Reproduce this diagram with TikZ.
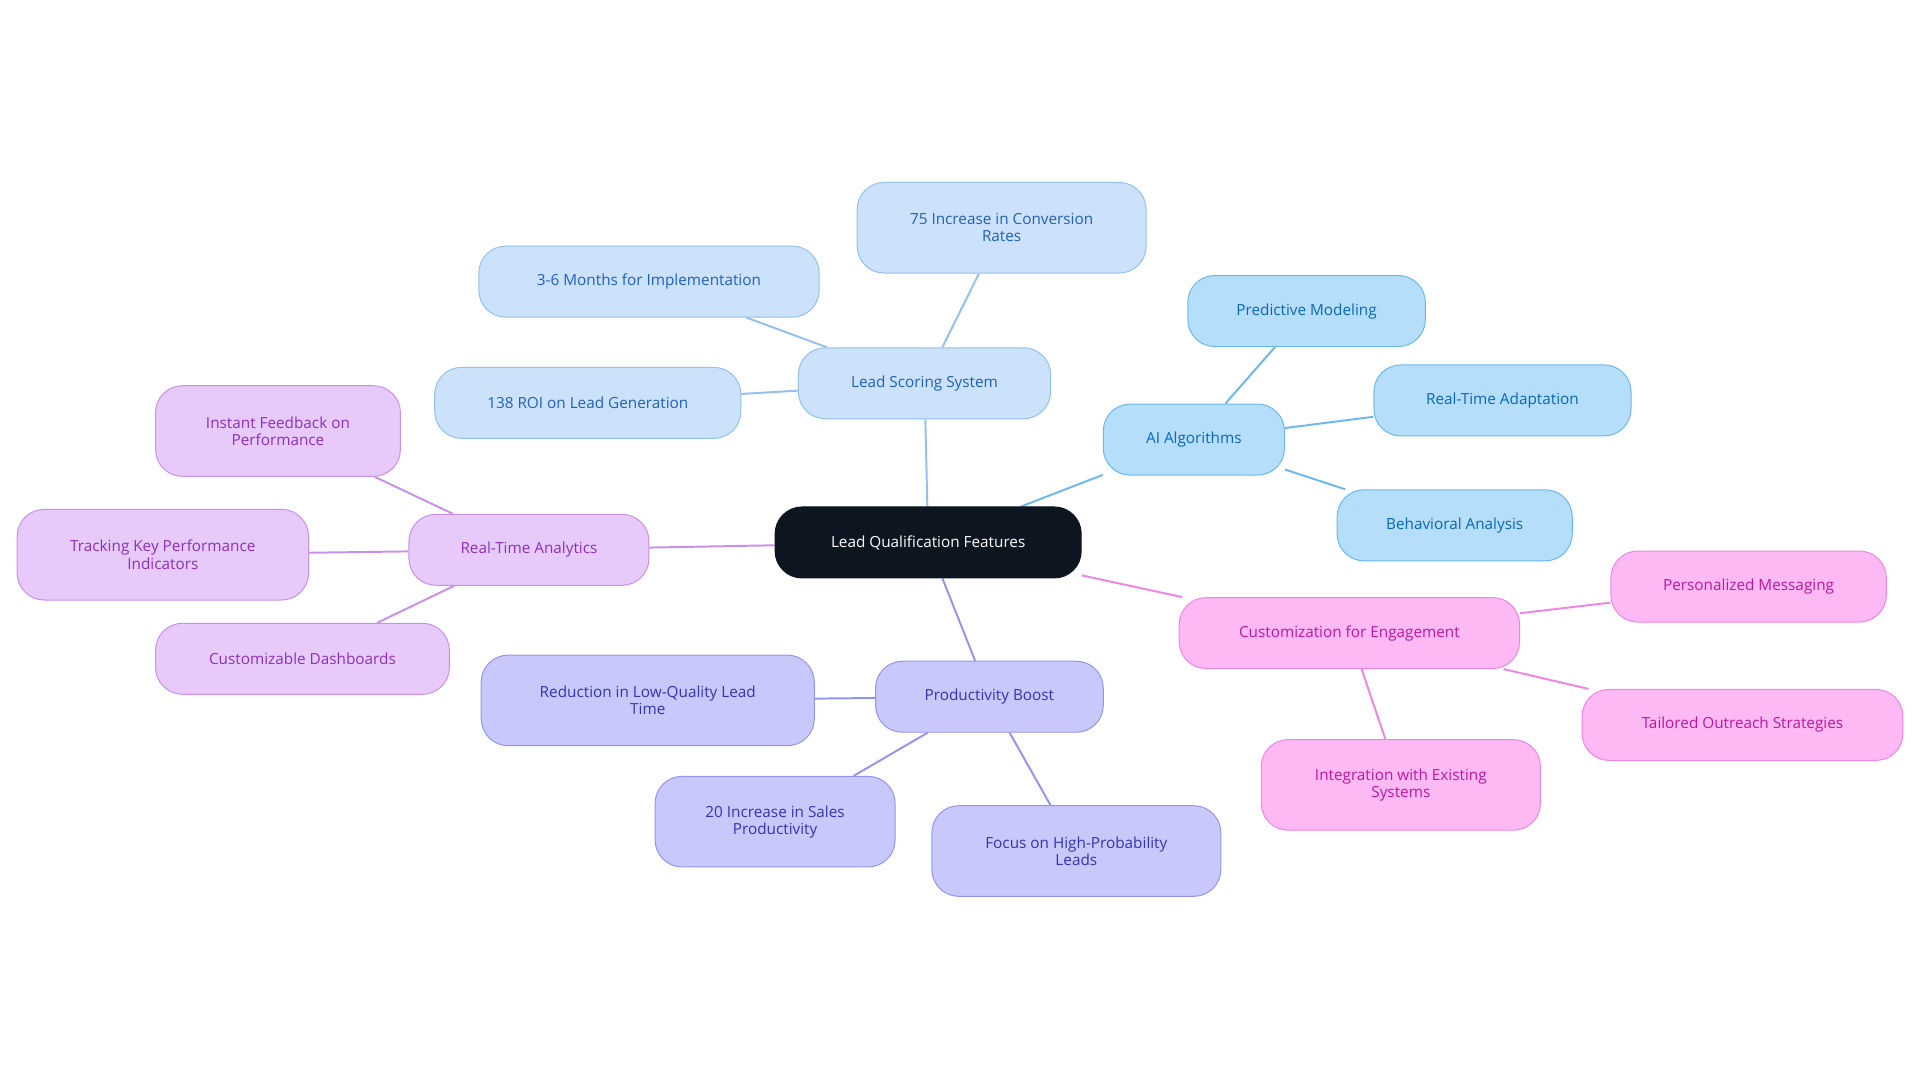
\documentclass[tikz,border=0pt]{standalone}
\usepackage{fontspec}
\setmainfont{Open Sans}
\usetikzlibrary{backgrounds}
\definecolor{cdark}{HTML}{0D1520}
\definecolor{lbF}{HTML}{CCE1FA}\definecolor{lbD}{HTML}{93C0F0}\definecolor{lbT}{HTML}{2060C0}
\definecolor{aiF}{HTML}{B4DEFA}\definecolor{aiD}{HTML}{6CB8EE}\definecolor{aiT}{HTML}{0B66B8}
\definecolor{pkF}{HTML}{FDB9F4}\definecolor{pkD}{HTML}{F084E4}\definecolor{pkT}{HTML}{C0169E}
\definecolor{prF}{HTML}{C8C8FA}\definecolor{prD}{HTML}{9494F0}\definecolor{prT}{HTML}{3434B8}
\definecolor{puF}{HTML}{E7CAFA}\definecolor{puD}{HTML}{C890EC}\definecolor{puT}{HTML}{8A30C0}
\tikzset{
 base/.style={rounded corners=22pt, draw, line width=0.8pt, align=center, inner sep=0pt, font=\fontsize{12.5}{14}\selectfont, minimum height=58pt},
 lb/.style={base, fill=lbF, draw=lbD, text=lbT},
 ai/.style={base, fill=aiF, draw=aiD, text=aiT},
 pk/.style={base, fill=pkF, draw=pkD, text=pkT},
 pr/.style={base, fill=prF, draw=prD, text=prT},
 pu/.style={base, fill=puF, draw=puD, text=puT},
 tall/.style={minimum height=74pt},
 e/.style={line width=1.6pt}
}
\begin{document}
\begin{tikzpicture}[x=1pt,y=-1pt]
\useasboundingbox (0,0) rectangle (1568,884);
\node[base, fill=cdark, draw=cdark, text=white, minimum width=250pt] (c) at (758,443) {Lead Qualification Features};
\node[lb, minimum width=206pt] (ls) at (755,313) {Lead Scoring System};
\node[lb, tall, minimum width=236pt] (l1) at (818,186) {75 Increase in Conversion\\Rates};
\node[lb, minimum width=278pt] (l2) at (530,230) {3-6 Months for Implementation};
\node[lb, minimum width=250pt] (l3) at (480,329) {138 ROI on Lead Generation};
\node[ai, minimum width=148pt] (ai) at (975,359) {AI Algorithms};
\node[ai, minimum width=194pt] (a1) at (1067,254) {Predictive Modeling};
\node[ai, minimum width=210pt] (a2) at (1227,327) {Real-Time Adaptation};
\node[ai, minimum width=192pt] (a3) at (1188,429) {Behavioral Analysis};
\node[pk, minimum width=278pt] (cu) at (1102,517) {Customization for Engagement};
\node[pk, minimum width=225pt] (k1) at (1428,479) {Personalized Messaging};
\node[pk, minimum width=262pt] (k2) at (1423,592) {Tailored Outreach Strategies};
\node[pk, tall, minimum width=228pt] (k3) at (1144,641) {Integration with Existing\\Systems};
\node[pr, minimum width=186pt] (pb) at (808,569) {Productivity Boost};
\node[pr, tall, minimum width=272pt] (p1) at (529,572) {Reduction in Low-Quality Lead\\Time};
\node[pr, tall, minimum width=196pt] (p2) at (633,671) {20 Increase in Sales\\Productivity};
\node[pr, tall, minimum width=236pt] (p3) at (879,695) {Focus on High-Probability\\Leads};
\node[pu, minimum width=196pt] (ra) at (432,449) {Real-Time Analytics};
\node[pu, tall, minimum width=200pt] (u1) at (227,352) {Instant Feedback on\\Performance};
\node[pu, tall, minimum width=238pt] (u2) at (133,453) {Tracking Key Performance\\Indicators};
\node[pu, minimum width=240pt] (u3) at (247,538) {Customizable Dashboards};
\begin{scope}[on background layer]
\draw[e, lbD] (c) -- (ls); \draw[e, lbD] (ls) -- (l1); \draw[e, lbD] (ls) -- (l2); \draw[e, lbD] (ls) -- (l3);
\draw[e, aiD] (c) -- (ai); \draw[e, aiD] (ai) -- (a1); \draw[e, aiD] (ai) -- (a2); \draw[e, aiD] (ai) -- (a3);
\draw[e, pkD] (c) -- (cu); \draw[e, pkD] (cu) -- (k1); \draw[e, pkD] (cu) -- (k2); \draw[e, pkD] (cu) -- (k3);
\draw[e, prD] (c) -- (pb); \draw[e, prD] (pb) -- (p1); \draw[e, prD] (pb) -- (p2); \draw[e, prD] (pb) -- (p3);
\draw[e, puD] (c) -- (ra); \draw[e, puD] (ra) -- (u1); \draw[e, puD] (ra) -- (u2); \draw[e, puD] (ra) -- (u3);
\end{scope}
\end{tikzpicture}
\end{document}
